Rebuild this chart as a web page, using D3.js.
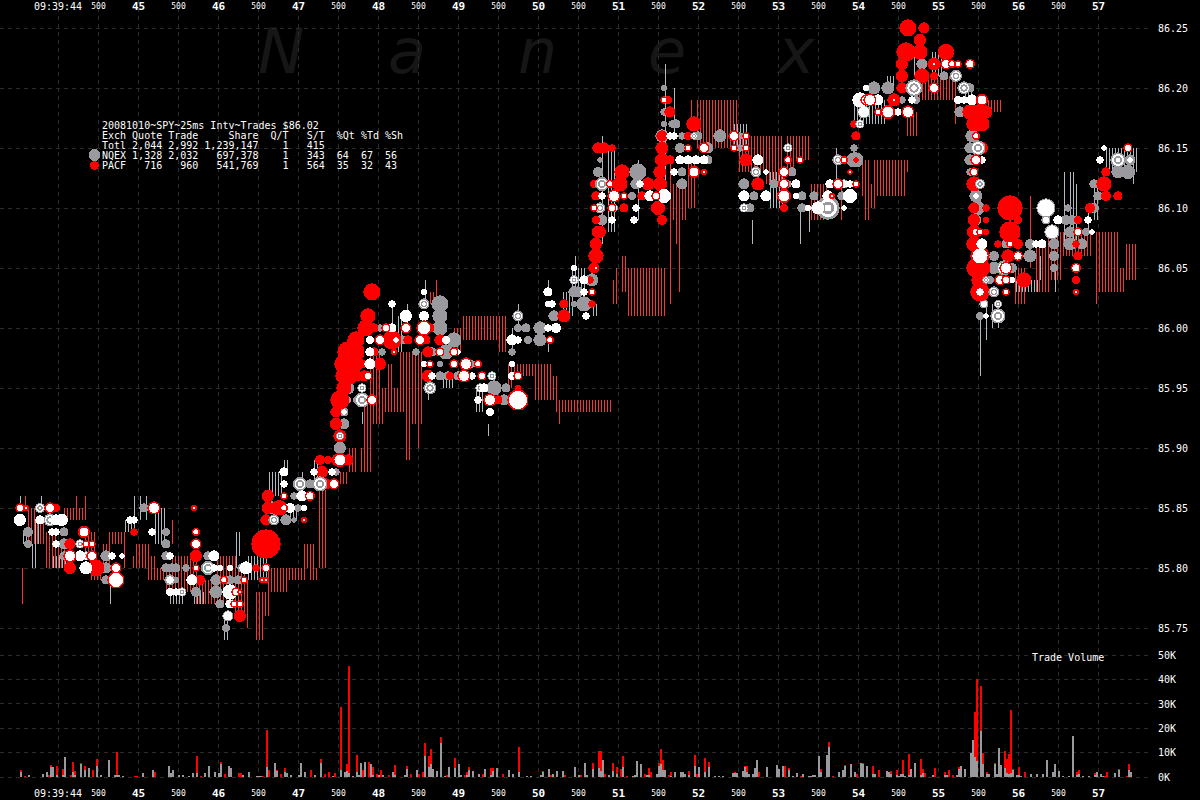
<!DOCTYPE html>
<html>
<head>
<meta charset="utf-8">
<script src="https://cdnjs.cloudflare.com/ajax/libs/d3/7.8.5/d3.min.js"></script>
<style>
html,body{margin:0;padding:0;background:#000;overflow:hidden}
svg{display:block;background:#000}
text{font-family:"DejaVu Sans Mono",monospace;fill:#fff;white-space:pre}
</style>
</head>
<body>
<svg id="c" width="1200" height="800"></svg>
<script>
// time unit: 25 ms intervals after 09:39:44
const timeLabels = ["09:39:44","500","45","500","46","500","47","500","48","500","49","500","50","500","51","500","52","500","53","500","54","500","55","500","56","500","57"];
const priceTicks = [85.75,85.80,85.85,85.90,85.95,86.00,86.05,86.10,86.15,86.20,86.25];
const volumeTicks = [0,10,20,30,40,50];
const watermarkLetters = ["N","a","n","e","x"];
const legendLines = [
"20081010~SPY~25ms Intv~Trades $86.02",
"Exch Quote Trade     Share  Q/T   S/T  %Qt %Td %Sh",
"Totl 2,044 2,992 1,239,147    1   415",
"NQEX 1,328 2,032   697,378    1   343  64  67  56",
"PACF   716   960   541,769    1   564  35  32  43"];

// PACF quotes: first interval, last interval, bid, ask
const pacfQuotes = [
[-18,-18,85.77,85.80],[-17,-17,85.85,85.86],[-16,-12,85.82,85.85],[-11,-8,85.82,85.84],[-6,-2,85.80,85.83],[-3,3,85.80,85.82],[3,11,85.84,85.85],[9,9,85.84,85.86],[13,13,85.84,85.86],[13,18,85.81,85.83],[16,21,85.79,85.80],[22,25,85.80,85.82],[25,33,85.82,85.83],[33,33,85.80,85.83],[37,37,85.80,85.81],[39,44,85.80,85.82],[44,48,85.79,85.81],[48,53,85.79,85.80],[53,56,85.78,85.80],[56,56,85.82,85.84],[57,68,85.78,85.81],[69,78,85.77,85.79],[79,88,85.77,85.81],[88,93,85.76,85.80],[94,94,85.75,85.79],[98,101,85.74,85.78],[102,104,85.76,85.78],[104,113,85.78,85.80],[114,122,85.79,85.80],[123,127,85.80,85.82],[126,129,85.79,85.80],[130,133,85.80,85.865],
[130,133,85.85,85.86],[141,144,85.87,85.88],[145,148,85.88,85.90],[151,154,85.88,85.90],[152,155,85.88,85.92],[153,162,85.92,85.94],[156,160,85.94,85.98],[161,170,85.93,85.95],[164,166,85.95,85.97],[170,172,85.94,85.96],[171,176,85.93,85.98],[173,175,85.89,85.93],[177,181,85.92,85.98],[180,180,85.90,85.92],[186,189,86.02,86.03],[189,189,86.02,86.04],[198,201,85.98,86.00],[202,223,85.99,86.01],[220,223,85.98,85.99],[224,245,85.96,85.97],[225,226,85.95,85.97],[238,249,85.94,85.96],[249,276,85.93,85.94],[250,250,85.92,85.93],[277,279,86.02,86.04],
[277,277,86.02,86.04],[278,279,86.02,86.05],[281,283,86.03,86.06],[284,303,86.01,86.05],[305,305,86.02,86.14],[305,313,86.09,86.12],[308,308,86.07,86.09],[310,310,86.03,86.12],[315,317,86.10,86.14],[316,316,86.17,86.19],[319,339,86.15,86.19],[340,352,86.13,86.16],[354,361,86.12,86.16],[364,367,86.13,86.16],[368,375,86.14,86.16],[376,383,86.09,86.12],[391,391,86.09,86.12],[402,404,86.11,86.14],[404,404,86.09,86.14],[403,403,86.09,86.12],[405,407,86.10,86.12],[408,422,86.11,86.14],[423,424,86.13,86.14],[424,428,86.16,86.18],[429,448,86.19,86.21],[448,448,86.17,86.21],[465,471,86.18,86.19],
[478,483,86.02,86.05],[485,486,86.05,86.11],[489,494,86.03,86.07],[495,500,86.04,86.08],[501,516,86.06,86.08],[518,518,86.02,86.08],[519,529,86.03,86.08],[530,532,86.03,86.05],[533,538,86.04,86.07]];

// NQEX quotes: first interval, last interval, bid, ask
const nqexQuotes = [
[-19,-19,85.85,85.86],[-9,-9,85.85,85.86],[-18,-17,85.82,85.83],[-14,-12,85.80,85.82],[-12,-10,85.82,85.84],[-3,3,85.80,85.81],[26,26,85.77,85.79],[33,38,85.83,85.84],[38,38,85.84,85.86],[41,41,85.84,85.86],[43,43,85.84,85.86],[48,53,85.82,85.85],[55,61,85.77,85.78],[67,72,85.77,85.78],[83,84,85.74,85.76],[84,84,85.74,85.76],[88,88,85.80,85.83],[90,90,85.81,85.83],[95,103,85.79,85.81],[105,111,85.86,85.88],[112,112,85.88,85.89],[114,114,85.88,85.89],[127,129,85.87,85.89],[116,118,85.84,85.85],[122,122,85.87,85.88],
[152,152,85.92,85.93],[166,166,86.00,86.02],[169,171,85.98,86.01],[174,174,86.00,86.02],[183,183,86.02,86.04],[185,185,85.94,85.95],[192,196,85.95,85.96],[209,212,85.93,85.95],[214,214,85.91,85.92],[226,226,85.98,86.00],[229,229,86.00,86.02],[244,244,85.98,85.99],[245,245,86.03,86.04],[252,256,86.01,86.03],[256,263,86.03,86.05],[258,258,86.05,86.06],[267,268,86.01,86.02],
[272,272,86.07,86.16],[274,277,86.08,86.15],[290,290,86.09,86.14],[303,303,86.12,86.22],[307,307,86.16,86.20],[338,343,86.15,86.17],[347,347,86.07,86.09],[346,346,86.07,86.08],[355,361,86.10,86.13],[370,370,86.07,86.10],[375,375,86.08,86.10],[388,388,86.12,86.15],[398,408,86.17,86.19],
[405,412,86.17,86.19],[414,417,86.20,86.21],[428,428,86.21,86.23],[436,441,86.21,86.23],[453,456,86.19,86.20],[461,461,85.96,86.01],[463,463,85.99,86.02],[466,466,86.00,86.02],[470,470,86.00,86.01],[478,489,86.03,86.04],[491,491,86.04,86.06],[498,498,86.03,86.05],[503,503,86.07,86.13],[506,506,86.07,86.13],[507,507,86.07,86.13],[509,509,86.07,86.12],[515,515,86.08,86.10],[517,519,86.09,86.12],[524,538,86.13,86.15],[537,537,86.12,86.13]];

// trades by price: interval, kind, hundreds of shares
// kinds: g NQEX, r PACF, w white, T target, R white with PACF ring
const tradeRows = [
[85.75,[84,'g',12]],
[85.76,[85,'g',25,85,'w',16,91,'r',30]],
[85.77,[81,'g',16,86,'w',16,88,'R',9,91,'R',9]],
[85.78,[56,'w',12,59,'w',9,62,'T',16,69,'g',20,79,'g',36,86,'w',49,89,'R',16,91,'R',4]],
[85.79,[24,'g',16,29,'R',64,56,'g',25,56,'w',9,59,'g',6,67,'w',25,71,'r',20,79,'g',25,83,'R',12,86,'g',16,90,'g',16,93,'R',9,102,'R',6,104,'R',6]],
[85.80,[6,'r',30,14,'w',36,19,'r',64,19,'g',42,24,'g',25,29,'R',25,54,'g',16,57,'g',16,59,'g',16,64,'g',9,69,'R',9,75,'T',42,78,'w',9,81,'w',6,86,'w',6,92,'g',16,94,'w',36,99,'r',9,104,'R',16]],
[85.81,[3,'g',16,6,'R',36,11,'w',25,14,'T',16,17,'R',25,24,'g',25,27,'w',9,32,'w',4,54,'g',16,56,'w',9,69,'r',30,78,'w',25,75,'g',16]],
[85.82,[-15,'g',12,-1,'w',9,3,'g',25,6,'r',25,11,'T',16,14,'R',9,17,'R',9,54,'g',16,69,'R',25,104,'r',196]],
[85.83,[-15,'g',20,-3,'w',9,-1,'w',9,3,'g',16,13,'R',30,38,'r',9,47,'w',9,54,'g',12,69,'R',12]],
[85.84,[-19,'g',30,-19,'w',30,-9,'w',16,-4,'T',36,-1,'w',25,2,'w',30,36,'w',9,38,'w',9,104,'r',25,108,'T',25,114,'g',25,118,'g',4,123,'R',6]],
[85.85,[-19,'R',16,-16,'R',6,-9,'T',20,-4,'R',25,-1,'r',12,43,'g',16,48,'R',36,68,'R',6,104,'r',9,105,'r',30,107,'g',36,110,'r',49,111,'r',49,113,'R',12,116,'w',20,120,'g',9,123,'w',6]],
[85.86,[105,'r',30,113,'R',9,118,'g',9,122,'w',25,126,'R',20]],
[85.87,[113,'w',9,121,'T',42,126,'g',16,131,'T',49,134,'r',25,138,'R',25]],
[85.88,[113,'w',16,128,'w',9,132,'r',30,137,'w',9,139,'g',9]],
[85.89,[131,'r',20,135,'r',12,140,'R',36,141,'R',42,145,'r',25]],
[85.90,[141,'g',30]],
[85.91,[141,'r',36,141,'T',12]],
[85.92,[139,'r',30,143,'g',25]],
[85.93,[139,'r',25,143,'g',16,143,'w',4,216,'w',12]],
[85.94,[141,'r',81,145,'g',6,149,'g',6,152,'T',49,157,'R',25,210,'w',9,216,'R',36,220,'r',16,223,'g',25,230,'R',100]],
[85.95,[143,'r',49,145,'g',36,152,'T',16,186,'T',36,211,'T',16,213,'w',16,218,'g',49,224,'g',16,230,'r',6]],
[85.96,[146,'r',64,143,'r',64,150,'r',20,153,'r',25,155,'R',16,185,'r',30,187,'w',9,191,'g',16,195,'g',16,196,'r',12,200,'g',16,203,'R',36,207,'w',9,212,'R',16,217,'T',16,227,'w',12,230,'R',16]],
[85.97,[143,'r',81,147,'r',100,150,'g',12,152,'r',16,156,'w',25,161,'r',30,183,'w',6,186,'R',9,191,'g',6,198,'R',16,204,'R',36,207,'g',9,210,'R',12,227,'w',6]],
[85.98,[145,'r',100,148,'r',100,156,'w',16,158,'r',16,162,'g',9,168,'R',6,179,'g',9,185,'r',25,187,'g',16,191,'R',16,194,'g',49,198,'R',16,200,'w',4,227,'g',9]],
[85.99,[149,'r',64,156,'w',12,161,'R',25,167,'r',81,169,'w',4,172,'g',16,175,'r',16,181,'R',25,184,'r',16,191,'r',25,194,'w',12,198,'g',49,227,'w',25,230,'w',9,235,'g',12,241,'g',36,246,'R',12]],
[86.00,[154,'r',64,155,'g',30,158,'r',16,161,'g',9,164,'R',16,167,'w',16,174,'R',25,183,'R',49,186,'r',16,191,'g',49,230,'g',12,234,'g',16,241,'g',36,245,'w',9,249,'w',20]],
[86.01,[155,'r',49,174,'w',30,183,'w',20,191,'g',49,230,'T',25,248,'g',25,253,'r',36,264,'w',9]],
[86.02,[167,'w',9,183,'T',25,191,'g',64,245,'w',6,247,'w',9,253,'r',16,258,'g',6,263,'g',49,267,'r',9]],
[86.03,[157,'r',64,183,'w',6,245,'w',16,258,'g',25,260,'g',25,263,'w',9,267,'R',9]],
[86.04,[258,'T',16,263,'w',16,266,'r',9,267,'g',36]],
[86.05,[258,'w',6,268,'r',25,269,'R',6]],
[86.06,[269,'r',49]],
[86.07,[269,'r',30]],
[86.08,[270,'r',30,271,'r',30]],
[86.09,[269,'r',12,272,'g',25,277,'w',9,288,'w',9,302,'r',20]],
[86.10,[268,'R',9,271,'T',25,277,'R',16,278,'T',12,283,'r',16,289,'w',9,300,'r',42,343,'T',16,346,'g',16,363,'r',12,372,'g',16,375,'w',6,380,'w',36,385,'T',121,393,'w',4]],
[86.11,[269,'r',16,272,'w',9,278,'R',36,283,'R',9,287,'g',12,292,'r',16,296,'w',25,299,'R',16,303,'w',42,343,'w',25,348,'g',16,354,'w',25,363,'R',42,369,'w',6,372,'g',16,378,'g',16,385,'w',25,387,'R',6,392,'g',16,396,'w',42]],
[86.12,[268,'r',12,272,'T',42,276,'R',12,281,'r',49,289,'g',25,291,'w',9,295,'r',36,301,'r',42,312,'g',25,343,'g',25,350,'r',36,358,'g',16,363,'R',25,365,'g',9,369,'w',16,386,'w',16,390,'R',25,393,'g',16,396,'w',9,399,'R',9]],
[86.13,[270,'g',20,282,'r',49,290,'g',64,301,'r',36,308,'w',9,312,'g',16,318,'R',30,323,'R',6,349,'T',25,354,'w',4,363,'R',25,367,'g',16,396,'R',4]],
[86.14,[271,'g',4,302,'r',42,306,'r',16,311,'w',16,315,'w',16,319,'w',16,323,'w',16,325,'g',16,344,'r',36,350,'w',25,365,'R',12,371,'R',9,390,'T',25,393,'r',12,398,'g',49,399,'r',4]],
[86.15,[270,'r',25,273,'r',25,277,'r',9,302,'r',36,311,'g',20,315,'R',9,323,'R',25,325,'g',25,338,'R',9,341,'g',9,344,'R',9,365,'T',16,398,'g',9,460,'g',9,456,'g',25,460,'T',49,462,'r',30,535,'R',16,523,'w',4]],
[86.16,[302,'g',36,302,'r',25,306,'w',9,308,'w',9,312,'g',9,315,'r',12,318,'T',9,320,'g',16,331,'g',36,338,'R',25,341,'g',9,344,'R',9,399,'r',16,457,'g',36,459,'R',12]],
[86.17,[303,'g',6,307,'g',9,309,'g',16,318,'r',49,398,'r',9,401,'T',16,399,'r',6,458,'r',49,462,'r',49,457,'g',9]],
[86.18,[303,'g',9,306,'r',25,403,'g',36,403,'w',25,410,'R',9,415,'R',42,420,'w',9,425,'R',36,451,'g',25,456,'r',49,460,'r',49,464,'r',36]],
[86.19,[303,'R',9,305,'r',12,401,'w',49,404,'R',25,406,'R',36,410,'w',25,418,'r',36,418,'R',4,422,'g',9,427,'w',9,429,'g',12,450,'w',12,453,'w',9,457,'w',25,462,'R',30]],
[86.20,[303,'g',6,404,'w',6,408,'g',36,415,'g',36,422,'r',25,428,'T',64,438,'R',25,453,'T',36,456,'g',16]],
[86.21,[422,'r',30,432,'r',49,438,'r',12,443,'g',16,449,'T',30]],
[86.22,[422,'r',30,432,'g',25,438,'r',36,438,'R',4,444,'R',25,447,'R',12,450,'R',9,456,'R',20]],
[86.23,[424,'r',81,431,'r',49,444,'r',56]],
[86.24,[431,'r',30]],
[86.25,[425,'r',64,433,'r',25]],
[86.14,[393,'R',9,399,'g',49,399,'r',4,456,'g',25,459,'R',25,462,'w',9,521,'w',9,530,'T',49,536,'g',25,536,'w',4]],
[86.13,[396,'R',4,456,'g',9,458,'R',16,524,'r',16,530,'g',36,535,'g',42]],
[86.12,[393,'w',9,396,'T',9,399,'R',9,458,'r',49,461,'T',20,518,'g',16,523,'r',49]],
[86.11,[393,'g',9,396,'w',42,459,'g',36,459,'w',4,520,'g',16,524,'r',20,530,'r',16]],
[86.10,[393,'w',4,458,'r',25,460,'g',42,464,'r',9,476,'r',144,494,'g',81,494,'w',64,505,'g',9,516,'r',20,518,'g',20]],
[86.09,[458,'r',30,459,'g',25,464,'r',6,480,'r',12,494,'g',16,494,'w',6,500,'w',16,504,'g',20,507,'g',20,510,'r',12,515,'w',9]],
[86.08,[458,'r',42,459,'R',16,461,'R',9,464,'r',6,476,'r',100,497,'g',49,497,'w',36,506,'g',25,510,'R',16,514,'g',12,517,'w',4]],
[86.07,[458,'r',49,462,'r',25,462,'w',25,470,'r',9,474,'g',16,476,'R',9,480,'r',20,486,'g',20,489,'w',9,492,'w',16,498,'g',25,506,'g',36,509,'r',9,512,'g',25]],
[86.06,[461,'r',81,461,'g',64,461,'w',49,468,'g',20,475,'r',36,480,'R',20,486,'g',36,498,'g',20,510,'r',16]],
[86.05,[459,'r',81,462,'r',64,468,'g',30,473,'T',49,474,'R',36,477,'g',20,498,'g',12,509,'R',20]],
[86.04,[461,'g',64,461,'r',64,464,'T',9,466,'g',12,471,'R',25,474,'R',16,477,'w',6,483,'r',49,509,'r',12]],
[86.03,[461,'r',81,461,'g',64,461,'w',9,468,'T',25,474,'R',9,509,'R',6]],
[86.02,[463,'g',16,463,'w',6,470,'T',12]],
[86.01,[461,'g',12,464,'w',4,470,'T',49]]];

// trade volume per interval: interval, NQEX thousands, PACF thousands
const volumeBars = [
[-19,2,1],[-17,0,.3],[-15,1,0],[-8,1.4,0],[-6,1.9,0],[-5,0,1],[-4,4,1],[-3,4,0],[-1,1,3.6],[2,1,2.4],[3,8,0],[6,0,.7],[7,2,4.3],[8,1,1.3],[11,5.2,.7],[13,2.7,1.9],[15,3.8,0],[17,0,3],[19,4.4,3.1],[21,.7,0],[25,7,0],[28,.7,0],[29,.7,9.7],[30,.7,0],[32,.3,0],[38,0,.3],[39,0,.3],[42,1.8,0],[47,2.9,0],[48,0,2.2],[55,4.6,0],[56,1.8,0],[57,3,0],[60,1,0],[62,1,0],[65,.3,0],[67,1.8,0],[69,1.8,6.9],[71,0,.5],[73,1.8,0],[75,4.6,0],[78,2,0],[80,1.6,0],[81,5.5,.6],[83,0,1.4],[85,4.6,0],[86,3.8,0],[90,0,1.8],[91,0,1.6],[92,1,0],[95,2.2,0],[99,.3,0],[100,.3,0],[101,.3,0],[102,0,.3],[104,4.2,15.2],[105,0,3],[108,5.9,0],[109,2.5,.3],[111,0,1.4],[113,2,1.8],[114,1.8,0],[116,.7,0],[120,1,0],[121,5.9,0],[123,2.2,0],[126,0,3],[128,1,0],[131,5.7,1.8],[133,0,1.4],[135,0,2.2],[137,.3,0],[138,0,1.8],[141,3,25.8],[143,2.2,0],[144,2.5,3],[145,1.8,43.8],[147,.3,0],[149,2.2,6.8],[150,1,0],[151,5.9,0],[152,0,3],[153,6.3,0],[155,0,6.1],[156,5.5,0],[157,1,3.2],[159,0,1.2],[160,.7,0],[161,0,3],[162,.7,0],[165,0,1],[167,2.2,0],[168,1,3.9],[173,1,0],[174,3.4,1.2],[176,0,1.4],[179,3,0],[180,0,1.2],[182,0,2.2],[183,8.7,5.2],[185,4.1,4.6],[186,5.5,6],[187,3.4,0],[189,2.6,0],[191,13.9,2.6],[193,.4,0],[194,0,.7],[195,4.2,0],[198,3.8,4.1],[200,5.5,0],[201,1,0],[203,0,.7],[204,1,1.2],[205,3,1.2],[207,2.6,0],[210,1.4,0],[212,0,1.4],[213,3.4,0],[216,1,2.8],[217,2.6,1.2],[219,3.8,0],[222,0,1.4],[225,3,0],[227,1.4,0],[230,2.2,10.1],[234,.3,0],[236,.3,0],[241,1,0],[242,2,.5],[245,3.4,0],[246,0,.7],[247,1.4,0],[249,2.6,0],[252,2.6,0],[253,0,1],[258,4.2,0],[260,1,0],[261,0,.7],[263,5.9,0],[264,1,0],[267,3.4,2.5],[270,3.8,7],
[272,7,0],[271,2.3,8.5],[273,0,1.4],[275,1,0],[277,2.6,3.1],[279,1.4,2.8],[281,0,3.4],[282,4.2,4.5],[284,0,.5],[287,.3,0],[288,.7,0],[289,6.7,0],[291,5.5,0],[293,0,1.4],[294,.7,0],[295,1,2.8],[296,0,2.2],[299,1.4,0],[300,4.6,1.3],[301,5.5,6.1],[302,3,4],[303,3,0],[305,0,1],[306,.4,1.8],[308,2.2,0],[311,2.2,0],[312,2.2,0],[313,1.4,0],[315,1,1.6],[318,4.6,4.6],[319,0,1.4],[320,4.2,0],[323,2.2,5.7],[325,4.2,2.1],[328,.3,0],[330,.3,0],[332,.3,0],[337,1.8,0],[338,1.8,.4],[339,1.8,0],[342,2.6,0],[343,4.2,.4],[344,2.2,2.4],[345,1.4,0],[347,1.4,0],[348,3.8,0],[349,7,0],[350,0,2.2],[354,4.2,0],[359,5,0],[360,3.4,0],[362,4.6,0],[363,0,4.6],[365,3,.8],[367,.5,0],[369,1.8,0],[371,0,.5],[372,1.4,0],[375,.3,0],[376,.3,0],[377,.8,0],[378,1,0],[380,8.7,0],[381,2.2,1.2],[384,9.2,0],[385,12.4,2.1],[387,0,.4],[390,2.2,0],[392,3,0],[393,4.6,.4],[396,5.5,0],[398,2.2,0],[399,0,1.4],[401,5.9,0],[402,5.5,.3],[404,4.6,0],[407,1.4,3.2],[408,1.4,0],[410,0,3],[414,2.6,0],[415,2.2,0],[416,1.4,1.2],[419,1,2],[420,.4,0],[421,1.4,0],[422,1.4,5.6],[423,.4,0],[425,1,8.6],[426,3.4,0],[428,5.9,0],[431,1,6.5],[432,1.8,1.6],[433,0,1.8],[437,.8,0],[438,0,3.8],[443,1,1.2],[444,1,0],[445,0,3],[447,0,1],[449,1,0],[450,3.4,.8],[451,4.6,0],[453,3.4,0],[456,10,0],[457,15.3,0],[458,8.2,18.6],[459,6.4,33.6],[461,19,18.4],[462,5.5,4.3],[464,1.4,.8],[465,1.4,0],[468,5.5,.2],[469,1.4,0],[470,12,0],[471,5,0],[473,3.8,6.9],[474,1.8,5.6],[475,1.4,8.2],[476,1.6,26],[477,3,.4],[479,1,0],[480,1,3.2],[481,.5,0],[483,0,2.2],[486,1.4,0],[489,1.4,0],[492,1.4,0],[494,7,0],[497,2.2,0],[498,5.5,0],[500,2.6,0],[502,.4,0],[505,.4,0],[507,17,0],[509,1,1.2],[510,1.4,1.6],[512,.5,0],[515,.5,0],[518,.8,1],[519,2.2,0],[521,1.4,0],[522,.5,0],[523,0,.5],[524,0,2.2],[528,1.8,0],[530,3,.4],[534,0,.4],[535,3,2.5],[536,2.2,0]];

const width = 1200, height = 800;
const svg = d3.select("#c");

const x = d3.scaleLinear().domain([0, 520]).range([58, 1098]);
const y = d3.scaleLinear().domain([85.75, 86.25]).range([628, 28]);
const v = d3.scaleLinear().domain([0, 50]).range([777, 655]);
const r = d3.scaleSqrt().domain([0, 100]).range([0, 10]);

const RED = "#ff0000", GRAY = "#9a9a9e", QUOTE_RED = "#f03838", QUOTE_GRAY = "#b0b8c0", GRID = "#2b2b2b";

// watermark
svg.append("g").selectAll("text").data(watermarkLetters).join("text")
  .attr("x", (d, i) => 258 + i * 130)
  .attr("y", 73)
  .style("font-family", "'DejaVu Sans'")
  .style("font-style", "italic")
  .style("font-size", "62px")
  .style("fill", "#161616")
  .text(d => d);

// grid
const grid = svg.append("g").attr("stroke", GRID).attr("stroke-dasharray", "4,4").attr("shape-rendering", "crispEdges");
const timeTicks = timeLabels.map((d, i) => i * 20);
grid.selectAll(".vg").data(timeTicks).join("line").attr("class", "vg")
  .attr("x1", d => x(d)).attr("x2", d => x(d)).attr("y1", 0).attr("y2", 778);
grid.selectAll(".hg").data(d3.range(0, 11).map(i => 85.75 + i * 0.05)).join("line").attr("class", "hg")
  .attr("x1", 0).attr("x2", 1150).attr("y1", d => y(d)).attr("y2", d => y(d));
grid.selectAll(".hv").data(volumeTicks).join("line").attr("class", "hv")
  .attr("x1", 0).attr("x2", 1150).attr("y1", d => v(d)).attr("y2", d => v(d));

// quotes: one 1px line on every third pixel column
function drawQuotes(rows, colour, phase) {
  const lines = rows.flatMap(([a, b, lo, hi]) =>
    d3.range(Math.round(x(a)), Math.round(x(b)) + 3)
      .filter(p => p % 3 === phase)
      .map(p => ({ p, lo, hi })));
  svg.append("g").attr("fill", colour).attr("shape-rendering", "crispEdges")
    .selectAll("rect").data(lines).join("rect")
    .attr("x", d => d.p).attr("width", 1)
    .attr("y", d => y(d.hi)).attr("height", d => y(d.lo) - y(d.hi));
}
drawQuotes(pacfQuotes, QUOTE_RED, 1);
drawQuotes(nqexQuotes, QUOTE_GRAY, 2);

// trades
const trades = tradeRows.flatMap(([price, list]) =>
  d3.range(0, list.length, 3).map(i => ({ price, t: list[i], kind: list[i + 1], shares: list[i + 2] })));
const layer = svg.append("g").attr("shape-rendering", "crispEdges");
const kindOrder = ["g", "r", "T", "w", "R"];
function disc(sel, radius, fill) {
  sel.append("circle").attr("cx", d => x(d.t)).attr("cy", d => y(d.price))
    .attr("r", radius).attr("fill", fill);
}
kindOrder.forEach(kind => {
  const g = layer.append("g").selectAll("g").data(trades.filter(d => d.kind === kind)).join("g");
  const R = d => r(d.shares) + 0.6;
  if (kind === "g") disc(g, R, GRAY);
  if (kind === "r") disc(g, R, RED);
  if (kind === "w") disc(g, R, "#fff");
  if (kind === "T") { disc(g, R, GRAY); disc(g, d => R(d) * 0.78, "#fff"); disc(g, d => R(d) * 0.55, GRAY); disc(g, d => R(d) * 0.3, "#fff"); }
  if (kind === "R") { disc(g, R, RED); disc(g, d => Math.max(R(d) - 1.5, 1.2), "#fff"); }
});

// volume
const volLayer = svg.append("g").attr("shape-rendering", "crispEdges");
volLayer.selectAll(".vgray").data(volumeBars).join("rect").attr("class", "vgray")
  .attr("x", d => x(d[0])).attr("width", 2)
  .attr("y", d => v(d[1])).attr("height", d => v(0) - v(d[1])).attr("fill", GRAY);
volLayer.selectAll(".vred").data(volumeBars).join("rect").attr("class", "vred")
  .attr("x", d => x(d[0])).attr("width", 2)
  .attr("y", d => v(d[1] + d[2])).attr("height", d => v(d[1]) - v(d[1] + d[2])).attr("fill", RED);

// axes
function styleAxis(g) { g.select(".domain").remove(); g.selectAll(".tick line").remove(); }
svg.append("g").attr("transform", "translate(1158,0)")
  .call(d3.axisRight(y).tickValues(priceTicks).tickFormat(d3.format(".2f")).tickSize(0).tickPadding(0))
  .call(styleAxis)
  .selectAll("text").style("font-family", "'DejaVu Sans Mono'").style("font-size", "10px").attr("fill", "#fff");
svg.append("g").attr("transform", "translate(1158,0)")
  .call(d3.axisRight(v).tickValues(volumeTicks).tickFormat(d => d + "K").tickSize(0).tickPadding(0))
  .call(styleAxis)
  .selectAll("text").style("font-family", "'DejaVu Sans Mono'").style("font-size", "10px").attr("fill", "#fff");

function timeAxis(yCentre) {
  const axis = d3.axisBottom(x).tickValues(timeTicks).tickFormat((d, i) => timeLabels[i]).tickSize(0).tickPadding(0);
  const g = svg.append("g").attr("transform", `translate(0,${yCentre})`).call(axis).call(styleAxis);
  g.selectAll("text").attr("y", 0).attr("dy", "0.35em")
    .attr("fill", "#fff")
    .style("font-family", "'DejaVu Sans Mono'")
    .style("font-size", (d, i) => timeLabels[i] === "500" ? "8px" : (timeLabels[i].length > 3 ? "10px" : "11px"))
    .style("font-weight", (d, i) => (timeLabels[i] === "500" || timeLabels[i].length > 3) ? "normal" : "bold")
    .attr("dx", (d, i) => timeLabels[i].length > 3 ? "-0.5" : 0);
}
timeAxis(6);
timeAxis(793);

// legend
svg.append("g").selectAll("text").data(legendLines).join("text")
  .attr("x", 102)
  .attr("y", (d, i) => 129 + i * 10)
  .style("font-size", "10px")
  .text(d => d);
svg.append("circle").attr("cx", 94.5).attr("cy", 155).attr("r", 6).attr("fill", GRAY).attr("shape-rendering", "crispEdges");
svg.append("circle").attr("cx", 94.5).attr("cy", 165.5).attr("r", 4.5).attr("fill", RED).attr("shape-rendering", "crispEdges");

svg.append("text").attr("x", 1032).attr("y", 661).style("font-size", "10px").text("Trade Volume");
</script>
</body>
</html>
